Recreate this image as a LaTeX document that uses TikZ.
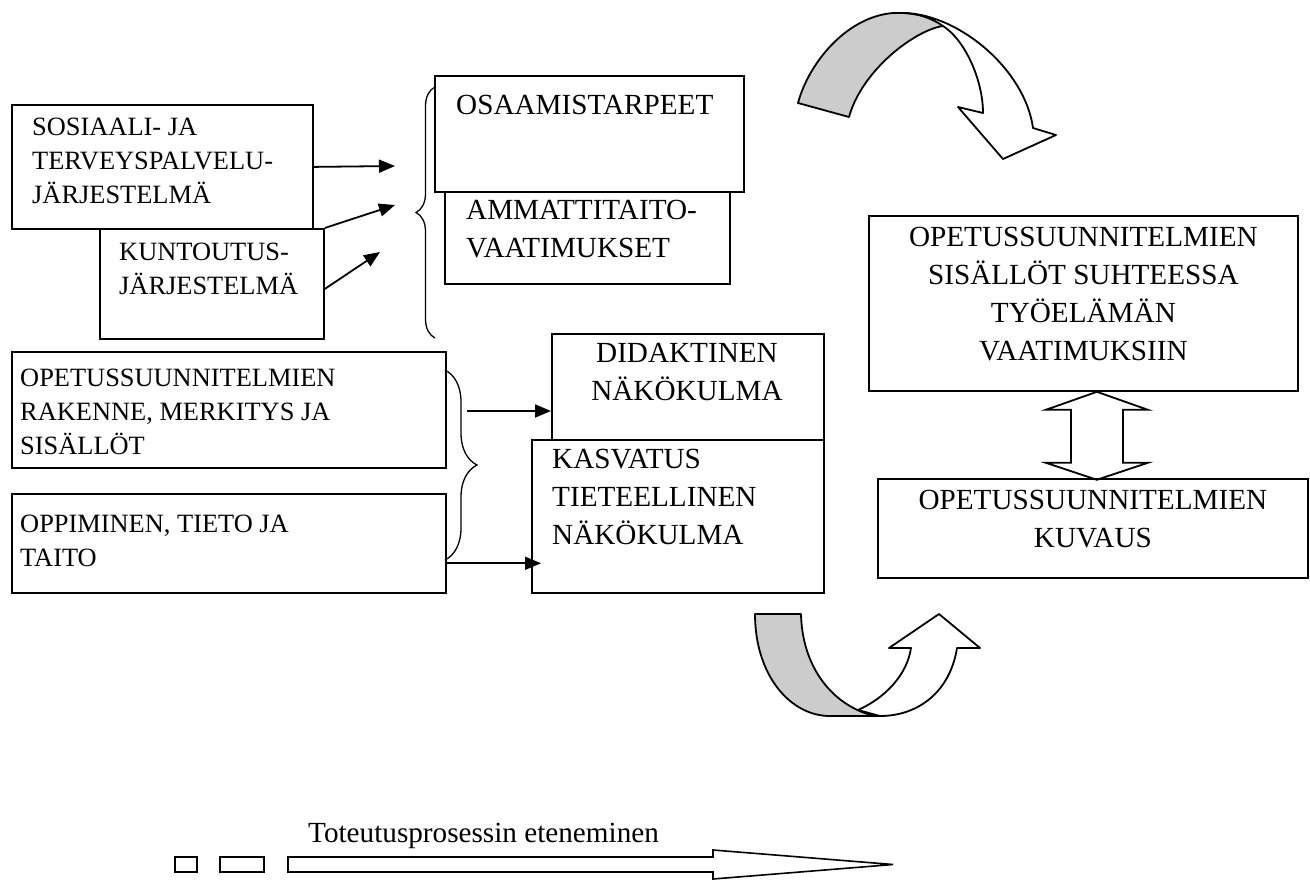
\documentclass[tikz,border=0pt]{standalone}
\usepackage{fontspec}
\setmainfont{Liberation Serif}
\usetikzlibrary{arrows.meta}
\usetikzlibrary{calc}
\usetikzlibrary{decorations.pathreplacing}

\begin{document}
\begin{tikzpicture}[x=1pt,y=-1pt,
  box/.style={draw, line width=1.8pt, anchor=north west, inner sep=0pt},
  small/.style={font=\fontsize{26.4}{34}\selectfont, inner sep=0pt, align=left, anchor=north west, execute at begin node=\strut},
  big/.style={font=\fontsize{29.2}{38}\selectfont, inner sep=0pt, align=left, anchor=north west, execute at begin node=\strut},
  conn/.style={line width=1.8pt, -{Triangle[length=16pt,width=13pt]}},
  curly/.style={decorate, decoration={brace, amplitude=#1}, line width=1.3pt},
  ribbon/.style={draw, line width=1.8pt, line join=round}
]
 \useasboundingbox (0,0) rectangle (1310,879);

 \node[box, minimum width=301pt, minimum height=124pt] (sos) at (11,104) {};
 \node[box, minimum width=224pt, minimum height=110pt] (kun) at (99,228) {};
 \node[box, minimum width=309pt, minimum height=116pt] (osa) at (434,75) {};
 \node[box, minimum width=285pt, minimum height=92pt]  (amm) at (444,191) {};
 \node[box, minimum width=434pt, minimum height=116pt] (ope) at (11,351) {};
 \node[box, minimum width=434pt, minimum height=99pt]  (opp) at (11,493) {};
 \node[box, minimum width=272pt, minimum height=106pt] (did) at (551,333) {};
 \node[box, minimum width=292pt, minimum height=153pt] (kas) at (531,439) {};
 \node[box, minimum width=429pt, minimum height=175pt] (sis) at (868,215) {};
 \node[box, minimum width=430pt, minimum height=99pt]  (kuv) at (877,478) {};

 \node[small] (t-sos) at (32,118.2) {SOSIAALI- JA\\TERVEYSPALVELU-\\JÄRJESTELMÄ};
 \node[small] (t-kun) at (119,243.2) {KUNTOUTUS-\\JÄRJESTELMÄ};
 \node[big] (t-osa) at (456,87.4) {OSAAMISTARPEET};
 \node[big] (t-amm) at (466,200.4) {AMMATTITAITO-\\VAATIMUKSET};
 \node[small] (t-ope) at (20,369.2) {OPETUSSUUNNITELMIEN\\RAKENNE, MERKITYS JA\\SISÄLLÖT};
 \node[small] (t-opp) at (20,515.2) {OPPIMINEN, TIETO JA\\TAITO};
 \node[big, align=center, anchor=north] (t-did) at (687,343.4) {DIDAKTINEN\\NÄKÖKULMA};
 \node[big] (t-kas) at (552,449.4) {KASVATUS\\TIETEELLINEN\\NÄKÖKULMA};
 \node[big, align=center, anchor=north] (t-sis) at (sis.north |- 0,227.4) {OPETUSSUUNNITELMIEN\\SISÄLLÖT SUHTEESSA\\TYÖELÄMÄN\\VAATIMUKSIIN};
 \node[big, align=center, anchor=north] (t-kuv) at (kuv.north |- 0,490.4) {OPETUSSUUNNITELMIEN\\KUVAUS};

 \draw[curly=19pt] (435,338) -- (435,87);
 \draw[curly=32pt] (445,370) -- (445,560);

 \path (395,166) coordinate (in1);
 \path (395,205) coordinate (in2);
 \path (380,252) coordinate (in3);
 \path ($(kun.north east)!0.545!(kun.south east)$) coordinate (out3);
 \path (467,411) coordinate (br2);
 \path ($(opp.north east)!0.697!(opp.south east)$) coordinate (out5);

 \draw[conn] (sos.east) -- (in1);
 \draw[conn] (kun.north east) -- (in2);
 \draw[conn] (out3) -- (in3);
 \draw[conn] (br2) -- (br2 -| did.west);
 \draw[conn, shorten >=-10pt] (out5) -- (out5 -| kas.west);

 \path ($(sis.south)+(13.5,0)$) coordinate (dbl);
 \draw[line width=1.8pt] (dbl) -- ++(51,18) -- ++(-25,0) -- ++(0,53) -- ++(25,0)
   -- ++(-51,17) -- ++(-51,-17) -- ++(25,0) -- ++(0,-53) -- ++(-25,0) -- cycle;

 \filldraw[ribbon, fill=black!20] (798,103) .. controls (808,65) and (845,17) .. (893,13)
   .. controls (915,12) and (935,18) .. (943,26)
   .. controls (915,30) and (862,70) .. (849,117) -- cycle;
 \filldraw[ribbon, fill=white] (905,13) .. controls (960,15) and (1025,70) .. (1033,128)
   -- (1056,135) -- (1003,159) -- (958,107) -- (983,113)
   .. controls (983,80) and (965,40) .. (943,26)
   .. controls (930,17) and (915,13) .. cycle;

 \filldraw[ribbon, fill=black!20] (755,614) -- (801,614) .. controls (802,660) and (825,697) .. (862,712)
   .. controls (870,715) and (875,716) .. (880,716) -- (830,716)
   .. controls (790,716) and (755,675) .. cycle;
 \filldraw[ribbon, fill=white] (858,710) .. controls (885,698) and (907,675) .. (911,648)
   -- (889,648) -- (939,614) -- (980,648) -- (957,648)
   .. controls (950,692) and (918,716) .. (880,716) -- cycle;

 \node[big] (t-tot) at (308,815.4) {Toteutusprosessin eteneminen};
 \draw[line width=1.6pt] (175,857) rectangle (197,872);
 \draw[line width=1.6pt] (220,857) rectangle (264,872);
 \draw[line width=1.6pt] (288,857) -- (713,857) -- (713,850) -- (893,864.5)
   -- (713,879) -- (713,872) -- (288,872) -- cycle;

\end{tikzpicture}
\end{document}
